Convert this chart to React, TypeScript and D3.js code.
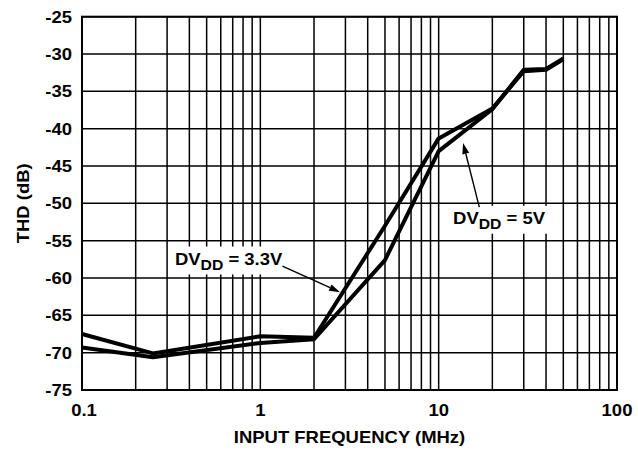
import React, { useEffect, useRef } from 'react';
import * as d3 from 'd3';

// Values
const freqs33 = [0.1, 0.25, 1, 2, 5, 10, 20, 30, 40, 50];
const thd33 = [-67.5, -70.1, -67.8, -68.0, -53.0, -41.3, -37.3, -32.3, -32.1, -30.7];
const freqs5 = [0.1, 0.25, 1, 2, 5, 10, 20, 30, 40, 50];
const thd5 = [-69.3, -70.6, -68.7, -68.2, -57.6, -43.0, -37.4, -32.1, -32.0, -30.6];

const xTicks = [0.1, 1, 10, 100];
const xTickLabels = ['0.1', '1', '10', '100'];
const yTicks = [-25, -30, -35, -40, -45, -50, -55, -60, -65, -70, -75];

// annotations: [freq, dB]
const label33 = { text: '3.3V', at: [0.332, -58.2], tail: [1.33, -58.4], tip: [2.8, -61.9] };
const label5 = { text: '5V', at: [12.05, -52.75], tail: [16.9, -50.5], tip: [13.7, -41.9] };

const W = 638;
const H = 451;
const margin = { top: 16.7, right: 21, bottom: 61, left: 82 };
const FONT = "'Liberation Sans', Arial, Helvetica, sans-serif";
const FS = 16.5;
const SX = 1.12;

const App: React.FC = () => {
  const ref = useRef<SVGSVGElement>(null);

  useEffect(() => {
    if (!ref.current) return;
    const svg = d3.select(ref.current);
    svg.selectAll('*').remove();

    const x = d3.scaleLog().domain([0.1, 100]).range([margin.left, W - margin.right]);
    const y = d3.scaleLinear().domain([-75, -25]).range([H - margin.bottom, margin.top]);

    const g = svg.append('g');

    // grid
    const vLines: number[] = [];
    [0.1, 1, 10].forEach(d => {
      for (let k = 1; k <= 9; k++) vLines.push(d * k);
    });
    vLines.push(100);

    g.selectAll('.vgrid')
      .data(vLines)
      .enter().append('line')
      .attr('x1', d => x(d)).attr('x2', d => x(d))
      .attr('y1', y(-25)).attr('y2', y(-75))
      .attr('stroke', '#000').attr('stroke-width', 1.5);

    g.selectAll('.hgrid')
      .data(yTicks)
      .enter().append('line')
      .attr('x1', x(0.1)).attr('x2', x(100))
      .attr('y1', d => y(d)).attr('y2', d => y(d))
      .attr('stroke', '#000').attr('stroke-width', 1.5);

    g.append('rect')
      .attr('x', x(0.1)).attr('y', y(-25))
      .attr('width', x(100) - x(0.1)).attr('height', y(-75) - y(-25))
      .attr('fill', 'none').attr('stroke', '#000').attr('stroke-width', 2);

    // tick labels
    const txt = (sel: any) => sel
      .attr('font-family', FONT)
      .attr('font-weight', 'bold')
      .attr('font-size', FS)
      .attr('fill', '#000');

    yTicks.forEach(v => {
      g.append('text')
        .attr('transform', `translate(${x(0.1) - 10},${y(v) + 6}) scale(${SX},1)`)
        .attr('text-anchor', 'end')
        .call(txt)
        .text(`${v}`);
    });

    xTicks.forEach((v, i) => {
      g.append('text')
        .attr('transform', `translate(${x(v) + (i === 0 ? 2 : 0)},${y(-75) + 26}) scale(${SX},1)`)
        .attr('text-anchor', 'middle')
        .call(txt)
        .text(xTickLabels[i]);
    });

    g.append('text')
      .attr('transform', `translate(${(x(0.1) + x(100)) / 2},${H - 8}) scale(${SX},1)`)
      .attr('text-anchor', 'middle')
      .call(txt)
      .text('INPUT FREQUENCY (MHz)');

    g.append('text')
      .attr('transform', `translate(29,${(y(-25) + y(-75)) / 2}) rotate(-90) scale(${SX},1)`)
      .attr('text-anchor', 'middle')
      .call(txt)
      .text('THD (dB)');

    // curves
    const line = d3.line<[number, number]>()
      .x(d => x(d[0]))
      .y(d => y(d[1]));

    const series: [number[], number[]][] = [[freqs33, thd33], [freqs5, thd5]];
    series.forEach(([fs, vs]) => {
      g.append('path')
        .datum(fs.map((f, i) => [f, vs[i]] as [number, number]))
        .attr('d', line)
        .attr('fill', 'none')
        .attr('stroke', '#000')
        .attr('stroke-width', 4)
        .attr('stroke-linejoin', 'round');
    });

    // annotations
    [label33, label5].forEach(lb => {
      const lg = g.append('g');
      const bg = lg.append('rect').attr('fill', '#fff');
      const t = lg.append('text')
        .attr('transform', `translate(${x(lb.at[0])},${y(lb.at[1])}) scale(${SX},1)`)
        .call(txt);
      t.append('tspan').text('DV');
      t.append('tspan').attr('font-size', FS * 0.85).attr('dy', 5).text('DD');
      t.append('tspan').attr('dy', -5).text(` = ${lb.text}`);
      const bb = (t.node() as SVGTextElement).getBBox();
      const x0 = x(lb.at[0]);
      const y0 = y(lb.at[1]);
      bg.attr('x', x0 + bb.x * SX - 5)
        .attr('y', y0 + bb.y - 3)
        .attr('width', bb.width * SX + 10)
        .attr('height', bb.height + 5);

      const tx = x(lb.tail[0]), ty = y(lb.tail[1]);
      const px = x(lb.tip[0]), py = y(lb.tip[1]);
      const ang = Math.atan2(py - ty, px - tx);
      const len = 11, half = 3.5;
      const bx = px - len * Math.cos(ang), by = py - len * Math.sin(ang);
      g.append('line')
        .attr('x1', tx).attr('y1', ty).attr('x2', bx).attr('y2', by)
        .attr('stroke', '#000').attr('stroke-width', 1.4);
      g.append('path')
        .attr('d', `M${px},${py}L${bx - half * Math.sin(ang)},${by + half * Math.cos(ang)}L${bx + half * Math.sin(ang)},${by - half * Math.cos(ang)}Z`)
        .attr('fill', '#000');
    });
  }, []);

  return (
    <svg
      ref={ref}
      width={W}
      height={H}
      style={{ position: 'absolute', left: 0, top: 0, background: '#fff' }}
    />
  );
};

export default App;
